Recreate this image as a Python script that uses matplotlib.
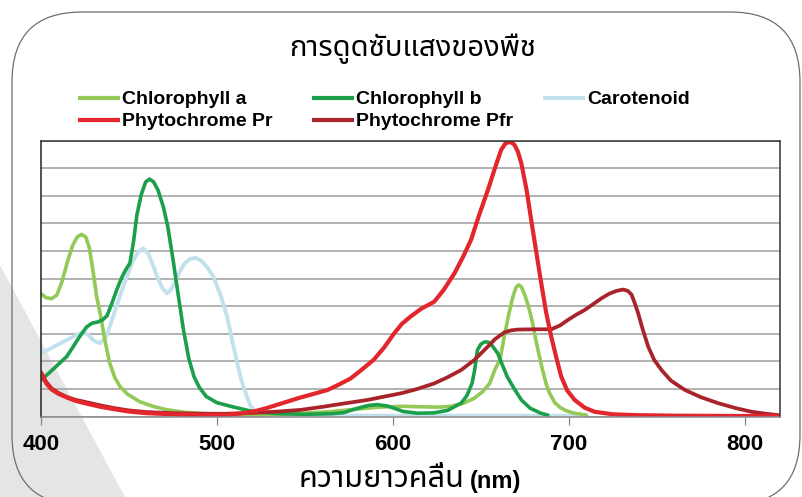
import matplotlib
matplotlib.use("Agg")
import matplotlib.pyplot as plt
from matplotlib.lines import Line2D
from matplotlib.patches import FancyBboxPatch, Polygon
from matplotlib.transforms import IdentityTransform

# Absorption spectra (nm, relative absorbance on a 0-10 grid)
chl_a_nm = [400, 403, 406, 409, 412, 415, 418, 420.5, 423, 425.5, 427.5, 429.5, 431.5, 434, 436.5, 439,
            442, 445, 449, 456, 464, 472, 482, 495, 510, 530, 550, 565, 580, 592, 605, 618, 627, 633,
            640, 646, 651, 655, 658, 661, 663, 665.5, 668, 670, 671.5, 673, 675, 677, 679, 681, 683,
            685, 687, 689, 692, 695, 698, 703, 710]
chl_a_abs = [4.45, 4.3, 4.27, 4.4, 4.9, 5.6, 6.2, 6.5, 6.6, 6.5, 6.1, 5.3, 4.4, 3.6, 2.7, 1.95,
             1.4, 1.08, 0.82, 0.54, 0.36, 0.24, 0.15, 0.1, 0.07, 0.08, 0.12, 0.18, 0.27, 0.34, 0.37, 0.35, 0.34, 0.37,
             0.48, 0.65, 0.9, 1.2, 1.7, 2.1, 2.8, 3.6, 4.3, 4.68, 4.77, 4.7, 4.4, 4.0, 3.5, 2.85, 2.25,
             1.7, 1.2, 0.85, 0.5, 0.33, 0.22, 0.12, 0.05]

chl_b_nm = [400, 405, 410, 414.6, 418, 422, 426, 429, 432, 435, 437.5, 440, 443, 446, 448, 450.5, 452.5,
            454.5, 457, 459.5, 461.7, 464, 466.5, 469.5, 472, 475, 478, 481, 484, 487, 490, 494, 500, 509,
            521, 535, 550, 565, 572, 580, 586, 591, 597, 606, 614, 623, 631, 638.7, 642, 645, 646.5, 648,
            650, 652, 654, 656, 659.6, 662, 665, 669, 673, 678, 684, 688]
chl_b_abs = [1.32, 1.6, 1.9, 2.17, 2.5, 2.9, 3.25, 3.38, 3.42, 3.5, 3.65, 4.05, 4.58, 5.05, 5.3, 5.55, 6.3,
             7.3, 8.05, 8.5, 8.6, 8.5, 8.2, 7.6, 6.9, 5.7, 4.4, 3.13, 2.1, 1.44, 1.05, 0.72, 0.5, 0.35,
             0.17, 0.1, 0.08, 0.1, 0.14, 0.3, 0.4, 0.43, 0.38, 0.18, 0.12, 0.13, 0.22, 0.48, 0.75, 1.2, 1.7, 2.4,
             2.62, 2.7, 2.7, 2.6, 2.29, 1.9, 1.44, 1.0, 0.6, 0.3, 0.12, 0.05]

car_nm = [400, 405, 410, 415, 420, 424, 427, 430, 433.6, 437, 441, 445, 448.8, 452, 455, 458, 461, 463.5,
          466, 469, 471.6, 474, 477.5, 481, 484.5, 487.7, 491, 494.5, 498, 502, 505.8, 508.5, 511.5, 514,
          517, 519, 521, 525, 540, 600, 650, 710]
car_abs = [2.29, 2.45, 2.62, 2.78, 2.95, 3.05, 2.95, 2.75, 2.65, 2.9, 3.62, 4.4, 5.07, 5.6, 5.95, 6.09, 5.9, 5.5,
           5.07, 4.65, 4.46, 4.6, 5.07, 5.5, 5.7, 5.75, 5.65, 5.4, 5.07, 4.4, 3.62, 2.8, 1.93, 1.3,
           0.72, 0.4, 0.24, 0.08, 0.04, 0.03, 0.03, 0.03]

pr_nm = [400, 403, 406, 410, 415, 420, 427, 434, 442, 450, 460, 475, 490, 505, 515, 522, 528, 534, 540,
         547, 555, 562.8, 570, 576, 582, 589, 595, 600.7, 605, 610, 616, 623.5, 629, 635, 640, 644.4, 649,
         654, 658, 661.5, 664, 666.8, 669, 671, 673, 676, 678.6, 681.5, 684.3, 687, 690, 693, 695.7, 699,
         703.3, 709, 714.7, 725, 737.5, 760, 790, 820]
pr_abs = [1.57, 1.2, 0.98, 0.82, 0.68, 0.56, 0.45, 0.35, 0.26, 0.18, 0.12, 0.08, 0.06, 0.06, 0.12, 0.2, 0.3, 0.42, 0.54,
          0.68, 0.82, 0.96, 1.18, 1.38, 1.68, 2.05, 2.5, 3.01, 3.35, 3.62, 3.9, 4.16, 4.6, 5.19, 5.8, 6.4, 7.3,
          8.21, 9.0, 9.66, 9.9, 9.95, 9.85, 9.6, 9.17, 8.2, 7.12, 5.95, 4.83, 3.8, 2.89, 2.1, 1.44, 0.95,
          0.6, 0.32, 0.17, 0.08, 0.05, 0.03, 0.02, 0.02]

pfr_nm = [400, 403, 406, 410, 415, 420, 427, 434, 442, 450, 460, 475, 490, 505, 520, 535, 547.6, 560, 572,
          585.6, 595, 604.6, 614, 623.5, 631, 638.7, 646.3, 653.9, 658, 663.4, 667, 671, 680, 690, 695, 699.5,
          704, 709, 714, 718.5, 723, 727, 730.9, 733.5, 735.6, 737.5, 739.4, 742, 745.1, 748.5, 752.7, 758,
          766, 775, 785, 795, 804, 812, 819]
pfr_abs = [1.6, 1.25, 1.02, 0.85, 0.7, 0.6, 0.5, 0.4, 0.3, 0.22, 0.16, 0.12, 0.1, 0.1, 0.13, 0.18, 0.24, 0.35, 0.47,
           0.6, 0.72, 0.84, 1.0, 1.2, 1.42, 1.68, 2.05, 2.53, 2.8, 3.05, 3.12, 3.15, 3.16, 3.16, 3.3, 3.5,
           3.68, 3.86, 4.08, 4.28, 4.45, 4.55, 4.6, 4.55, 4.42, 4.1, 3.74, 3.15, 2.53, 2.05, 1.68, 1.3,
           0.96, 0.7, 0.48, 0.3, 0.17, 0.1, 0.05]

x_ticks = [400, 500, 600, 700, 800]

title = "การดูดซับแสงของพืช"
xlabel_thai = "ความยาวคลื่น"
xlabel_unit = "(nm)"

series = [
    ("Carotenoid", car_nm, car_abs, "#c2e1ec", 2.8),
    ("Chlorophyll a", chl_a_nm, chl_a_abs, "#92c957", 2.6),
    ("Chlorophyll b", chl_b_nm, chl_b_abs, "#1b9f4b", 2.6),
    ("Phytochrome Pfr", pfr_nm, pfr_abs, "#a9232a", 2.7),
    ("Phytochrome Pr", pr_nm, pr_abs, "#e3262c", 3.0),
]

W, H = 802, 497
fig = plt.figure(figsize=(W / 100, H / 100), dpi=100)
pix = IdentityTransform()

# slide decoration: grey wedge and rounded frame, kept behind the axes
fig.patches.append(Polygon([(0, H - 265), (125, 0), (0, 0)], closed=True, transform=pix,
                           facecolor="#e5e5e5", edgecolor="none", zorder=-2))
fig.patches.append(FancyBboxPatch((12, H - 505), 788, 493, boxstyle="round,pad=0,rounding_size=70",
                                  transform=pix, facecolor="none", edgecolor="#6e6e6e", lw=0.9, zorder=-1))

ax = fig.add_axes([41 / W, (H - 416.5) / H, (780 - 41) / W, (416.5 - 140.5) / H])
ax.set_zorder(3)
ax.patch.set_visible(False)

for name, xs, ys, color, lw in series:
    ax.plot(xs, ys, color=color, lw=lw, solid_capstyle="round", solid_joinstyle="round", label=name)

ax.set_xlim(400, 820)
ax.set_ylim(0, 10)
ax.set_yticks(range(0, 11))
ax.yaxis.grid(True, color="#9c9c9c", lw=1.1)
ax.set_axisbelow(True)
ax.tick_params(axis="y", length=0, labelleft=False)
ax.set_xticks(x_ticks)
ax.tick_params(axis="x", direction="out", length=5.5, width=0.9, color="#888888", pad=7)
for lab in ax.get_xticklabels():
    lab.set_fontfamily("Liberation Sans")
    lab.set_fontweight("bold")
    lab.set_fontsize(16)
ax.spines["left"].set_color("#222222")
ax.spines["top"].set_color("#333333")
ax.spines["right"].set_color("#333333")
ax.spines["bottom"].set_color("#8a8a8a")
for s in ax.spines.values():
    s.set_linewidth(1.1)

# legend drawn by hand, two rows like the original
handles = {name: (color, lw) for name, _, _, color, lw in series}
legend_items = [
    ("Chlorophyll a", 78, 98), ("Chlorophyll b", 312, 98), ("Carotenoid", 543, 98),
    ("Phytochrome Pr", 78, 120), ("Phytochrome Pfr", 312, 120),
]
for name, x0, yc in legend_items:
    color, lw = handles[name]
    fig.add_artist(Line2D([x0 / W, (x0 + 42) / W], [1 - yc / H, 1 - yc / H], transform=fig.transFigure,
                          color=color, lw=3, solid_capstyle="butt"))
    fig.text((x0 + 44) / W, 1 - yc / H, name, family="Liberation Sans", weight="bold", fontsize=14,
             va="center_baseline", ha="left")

fig.text(413 / W, 1 - 56 / H, title, family="Noto Sans Thai", fontsize=21, ha="center", va="baseline")
fig.text(464 / W, 1 - 487 / H, xlabel_thai, family="Noto Sans Thai", fontsize=22, ha="right", va="baseline")
fig.text(470 / W, 1 - 488 / H, xlabel_unit, family="Liberation Sans", weight="bold", fontsize=17,
         ha="left", va="baseline")

fig.savefig("out.png", dpi=100)
